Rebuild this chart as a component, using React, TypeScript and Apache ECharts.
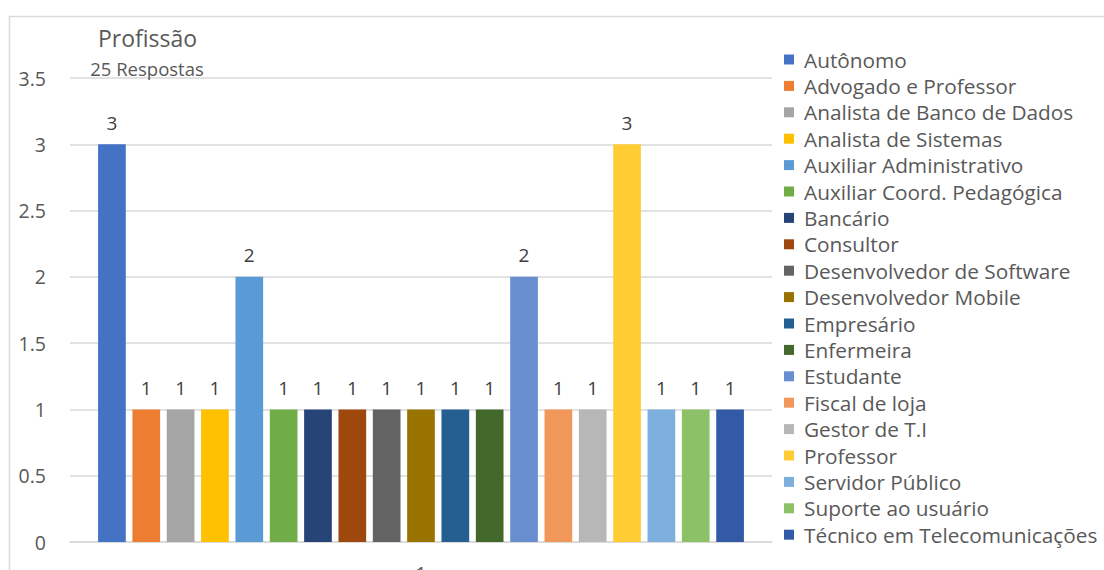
import React, { useEffect, useRef } from "react";
import * as echarts from "echarts";

// Occupations reported by respondents, one bar each, all in a single category
const categories = ["1"];
const professions = [
  "Autônomo",
  "Advogado e Professor",
  "Analista de Banco de Dados",
  "Analista de Sistemas",
  "Auxiliar Administrativo",
  "Auxiliar Coord. Pedagógica",
  "Bancário",
  "Consultor",
  "Desenvolvedor de Software",
  "Desenvolvedor Mobile",
  "Empresário",
  "Enfermeira",
  "Estudante",
  "Fiscal de loja",
  "Gestor de T.I",
  "Professor",
  "Servidor Público",
  "Suporte ao usuário",
  "Técnico em Telecomunicações",
];
const counts = [3, 1, 1, 1, 2, 1, 1, 1, 1, 1, 1, 1, 2, 1, 1, 3, 1, 1, 1];
const yTicks = [0, 0.5, 1, 1.5, 2, 2.5, 3, 3.5];

const palette = [
  "#4472C4", "#ED7D31", "#A5A5A5", "#FFC000", "#5B9BD5", "#70AD47",
  "#264478", "#9E480E", "#636363", "#997300", "#255E91", "#43682B",
  "#698ED0", "#F1975A", "#B7B7B7", "#FFCD33", "#7CAFDD", "#8CC168",
  "#335AA6",
];

const FONT = "'Open Sans', 'Noto Sans', sans-serif";
const TEXT = "#595959";

export default function App() {
  const ref = useRef<HTMLDivElement>(null);

  useEffect(() => {
    document.body.style.margin = "0";
    const chart = echarts.init(ref.current!, null, { renderer: "svg" });
    const total = counts.reduce((a, b) => a + b, 0);

    chart.setOption({
      animation: false,
      backgroundColor: "#ffffff",
      color: palette,
      textStyle: { fontFamily: FONT },
      title: [
        {
          text: "Profissão",
          left: 142.5,
          top: 21,
          textAlign: "center",
          textStyle: { fontFamily: FONT, fontSize: 23, fontWeight: "normal", color: TEXT },
        },
        {
          text: `${total} Respostas`,
          left: 142,
          top: 54,
          textAlign: "center",
          textStyle: { fontFamily: FONT, fontSize: 18.5, fontWeight: "normal", color: TEXT },
        },
      ],
      graphic: [
        {
          type: "rect",
          shape: { x: 9.5, y: 16.5, width: 1200, height: 700 },
          style: { fill: "none", stroke: "#d9d9d9", lineWidth: 1.5 },
          silent: true,
        },
      ],
      legend: {
        orient: "vertical",
        left: 779,
        top: 44,
        icon: "rect",
        itemWidth: 10,
        itemHeight: 10,
        itemGap: 5.4,
        textStyle: {
          fontFamily: FONT,
          fontSize: 20.8,
          color: TEXT,
          padding: [0, 0, 0, 5],
        },
        data: professions,
      },
      grid: {
        left: 70,
        right: 332,
        top: 78,
        bottom: 28,
        containLabel: false,
        outerBoundsMode: "none",
      },
      xAxis: {
        type: "category",
        data: categories,
        axisLine: { lineStyle: { color: "#d9d9d9", width: 1.5 } },
        axisTick: { show: false },
        axisLabel: { color: TEXT, fontSize: 20, fontFamily: FONT, margin: 21 },
      },
      yAxis: {
        type: "value",
        min: yTicks[0],
        max: yTicks[yTicks.length - 1],
        interval: 0.5,
        axisLine: { show: false },
        axisTick: { show: false },
        axisLabel: { color: TEXT, fontSize: 19.5, fontFamily: FONT, margin: 24 },
        splitLine: { lineStyle: { color: "#d9d9d9", width: 1.5 } },
      },
      series: professions.map((name, i) => ({
        name,
        type: "bar",
        data: [counts[i]],
        barGap: "24%",
        barCategoryGap: "8%",
        itemStyle: { color: palette[i] },
        label: {
          show: true,
          position: "top",
          distance: 12,
          color: "#404040",
          fontSize: 19,
          fontFamily: FONT,
        },
      })),
    });

    return () => chart.dispose();
  }, []);

  return (
    <div
      ref={ref}
      style={{ position: "fixed", left: 0, top: 0, width: 1104, height: 570 }}
    />
  );
}
